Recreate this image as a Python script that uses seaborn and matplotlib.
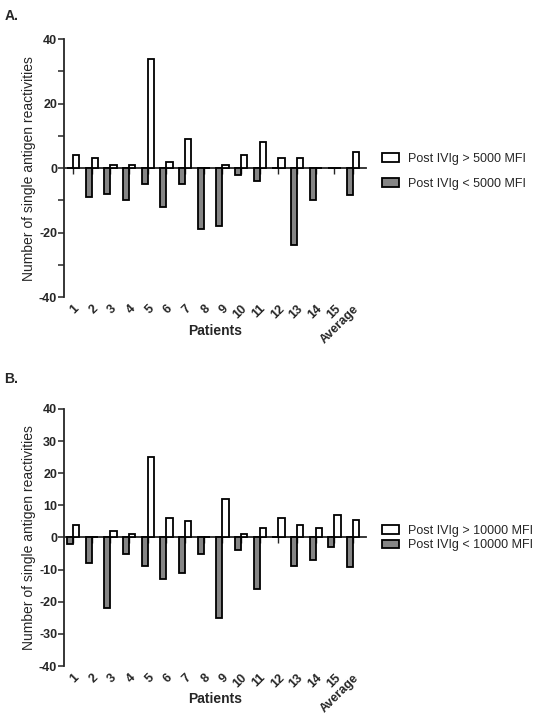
import matplotlib
matplotlib.use("Agg")
import matplotlib.pyplot as plt
import seaborn as sns
import pandas as pd

# Chart data ---------
patients = [str(i) for i in range(1, 16)] + ["Average"]

a_above = [4, 3, 1, 1, 34, 2, 9, 0, 1, 4, 8, 3, 3, 0, 0, 4.9]
a_below = [0, -9, -8, -10, -5, -12, -5, -19, -18, -2, -4, 0, -24, -10, 0, -8.4]

b_above = [4, 0, 2, 1, 25, 6, 5, 0, 12, 1, 3, 6, 4, 3, 7, 5.3]
b_below = [-2, -8, -22, -5, -9, -13, -11, -5, -25, -4, -16, 0, -9, -7, -3, -9.3]

a_labels = ["Post IVIg > 5000 MFI", "Post IVIg < 5000 MFI"]
b_labels = ["Post IVIg > 10000 MFI", "Post IVIg < 10000 MFI"]

sns.set_style("ticks")
plt.rcParams["font.family"] = ["Liberation Sans", "DejaVu Sans"]

fig = plt.figure(figsize=(5.44, 7.14), dpi=100)
ax_a = fig.add_axes([0.118, 0.584, 0.555, 0.361])
ax_b = fig.add_axes([0.118, 0.0672, 0.555, 0.36])


def draw_panel(ax, above, below, labels, yticks, minor, leg_y, leg_space):
    df = pd.DataFrame({
        "patient": patients * 2,
        "value": below + above,
        "group": [labels[1]] * len(patients) + [labels[0]] * len(patients),
    })
    sns.barplot(data=df, x="patient", y="value", hue="group",
                hue_order=[labels[1], labels[0]],
                palette={labels[1]: "#858585", labels[0]: "white"},
                edgecolor="black", linewidth=1.3, width=0.66,
                errorbar=None, ax=ax)

    ax.set_xlim(-0.48, 15.7)
    ax.set_ylim(-40, 40)
    ax.set_yticks(yticks)
    ax.set_yticklabels([str(t) for t in yticks], fontweight="bold", fontsize=9)
    if minor:
        ax.set_yticks(minor, minor=True)
    ax.tick_params(axis="y", which="both", direction="out", length=4, width=1.1, pad=1)

    ax.set_xticks(range(len(patients)))
    ax.set_xticklabels(patients, rotation=45, ha="right", rotation_mode="anchor",
                       fontweight="bold", fontsize=9)
    ax.tick_params(axis="x", length=0, pad=4)

    for s in ["top", "right", "bottom"]:
        ax.spines[s].set_visible(False)
    ax.spines["left"].set_linewidth(1.3)

    # x axis line drawn through zero, ticks pointing down
    sec = ax.secondary_xaxis(0, transform=ax.transData)
    sec.set_xticks(range(len(patients)))
    sec.tick_params(axis="x", direction="out", length=4, width=1.0, labelbottom=False)
    sec.spines["bottom"].set_linewidth(1.3)

    ax.set_xlabel("Patients", fontweight="bold", fontsize=10)
    ax.xaxis.set_label_coords(0.5, -0.13)
    ax.xaxis.label.set_va("center")
    ax.set_ylabel("Number of single antigen reactivities", fontsize=10, labelpad=2)

    handles, labs = ax.get_legend_handles_labels()
    ax.get_legend().remove()
    fig.legend(handles[::-1], labs[::-1], loc="upper left",
               bbox_to_anchor=(0.702, leg_y), frameon=False, fontsize=9,
               borderpad=0, borderaxespad=0, handlelength=1.4, handleheight=0.7,
               handletextpad=0.7, labelspacing=leg_space)


draw_panel(ax_a, a_above, a_below, a_labels, [-40, -20, 0, 20, 40], [-30, -10, 10, 30],
           0.786, 1.05)
draw_panel(ax_b, b_above, b_below, b_labels, list(range(-40, 41, 10)), None,
           0.265, 0.2)

fig.text(0.008, 0.972, "A.", fontweight="bold", fontsize=10)
fig.text(0.008, 0.464, "B.", fontweight="bold", fontsize=10)

plt.savefig("out.png", dpi=100)
